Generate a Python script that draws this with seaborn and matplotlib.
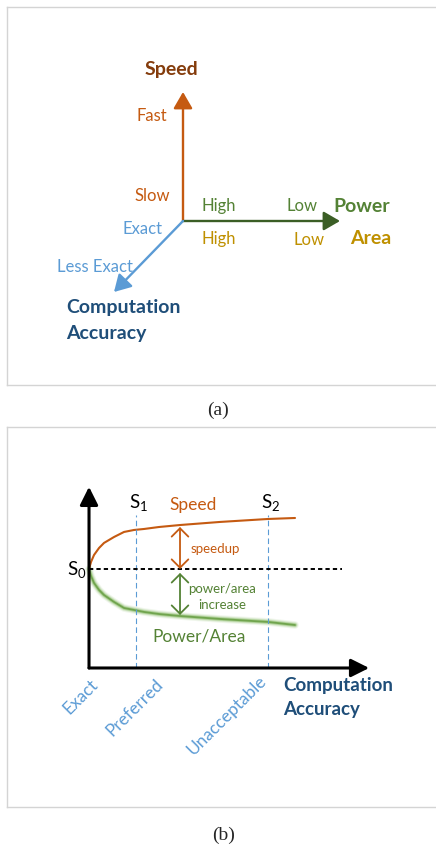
import numpy as np
import pandas as pd
import matplotlib
matplotlib.use("Agg")
import matplotlib.pyplot as plt
import seaborn as sns

sns.set_theme(style="white")
plt.rcParams["font.family"] = ["Lato", "DejaVu Sans"]
plt.rcParams["mathtext.fontset"] = "custom"
plt.rcParams["mathtext.rm"] = "Lato"

# ---------------- data ----------------
# panel (a): axis labels
speed_ticks = ["Fast", "Slow"]
power_ticks = ["High", "Low"]
area_ticks = ["High", "Low"]
accuracy_ticks = ["Exact", "Less Exact"]

# panel (b): accuracy loss (in units of S1) and relative speed / power-area
accuracy_loss = [0, 0.043, 0.106, 0.213, 0.319, 0.532, 0.745, 0.957, 1.170, 1.489,
                 1.936, 2.787, 3.809, 4.383]
speed_rel = [1.00, 1.071, 1.141, 1.212, 1.263, 1.323, 1.374, 1.394, 1.404, 1.424,
             1.444, 1.475, 1.505, 1.515]
power_rel = [1.00, 0.929, 0.859, 0.788, 0.737, 0.667, 0.606, 0.586, 0.566, 0.545,
             0.525, 0.495, 0.465, 0.434]
thresholds = {"S$_\\mathregular{1}$": 1.0, "S$_\\mathregular{2}$": 3.81}
accuracy_levels = ["Exact", "Preferred", "Unacceptable"]
accuracy_level_x = [-0.17, 0.98, 2.94]

# colors
C_SPEED_DARK = "#843C0C"
C_SPEED = "#C55A11"
C_GREEN = "#548235"
C_GREEN_DARK = "#3B5E25"
C_GOLD = "#BF9000"
C_BLUE = "#5B9BD5"
C_NAVY = "#1F4E79"
C_BORDER = "#D4D4D4"

W, H = 436, 851
fig = plt.figure(figsize=(W / 100, H / 100), dpi=100)


def px_axes(x0, y0, x1, y1):
    return fig.add_axes([x0 / W, 1 - y1 / H, (x1 - x0) / W, (y1 - y0) / H])


def boxed(ax):
    ax.set_xticks([])
    ax.set_yticks([])
    for name, s in ax.spines.items():
        s.set_visible(name != "right")
        s.set_color(C_BORDER)
        s.set_linewidth(1.0)
    ax.set_facecolor("white")


# ---------------- panel (a) ----------------
axa = px_axes(7, 7, 445, 385)
boxed(axa)
axa.set_xlim(-176, 262)
axa.set_ylim(-164, 214)


def arrow(ax, xy0, xy1, color, lw, hl=1.0, hw=0.58, ms=10):
    ax.annotate("", xy=xy1, xytext=xy0,
                arrowprops=dict(arrowstyle=f"-|>,head_length={hl},head_width={hw}",
                                color=color, lw=lw, shrinkA=0, shrinkB=0,
                                mutation_scale=ms))


arrow(axa, (0, 0), (0, 129), C_SPEED, 1.7)
arrow(axa, (0, 0), (157, 0), C_GREEN_DARK, 1.7)
arrow(axa, (0, 0), (-69, -71), C_BLUE, 1.7)

axa.text(-12, 151, "Speed", color=C_SPEED_DARK, fontsize=14, fontweight="bold",
         ha="center", va="center")
axa.text(-31, 105, speed_ticks[0], color=C_SPEED, fontsize=12, ha="center", va="center")
axa.text(-31, 25, speed_ticks[1], color=C_SPEED, fontsize=12, ha="center", va="center")
axa.text(36, 15, power_ticks[0], color=C_GREEN, fontsize=12, ha="center", va="center")
axa.text(119, 15, power_ticks[1], color=C_GREEN, fontsize=12, ha="center", va="center")
axa.text(179, 14, "Power", color=C_GREEN, fontsize=14, fontweight="bold",
         ha="center", va="center")
axa.text(36, -18, area_ticks[0], color=C_GOLD, fontsize=12, ha="center", va="center")
axa.text(126, -19, area_ticks[1], color=C_GOLD, fontsize=12, ha="center", va="center")
axa.text(188, -18, "Area", color=C_GOLD, fontsize=14, fontweight="bold",
         ha="center", va="center")
axa.text(-41, -8, accuracy_ticks[0], color=C_BLUE, fontsize=12, ha="center", va="center")
axa.text(-88, -46, accuracy_ticks[1], color=C_BLUE, fontsize=12, ha="center", va="center")
axa.text(-117, -87, "Computation", color=C_NAVY, fontsize=14, fontweight="bold",
         ha="left", va="center")
axa.text(-117, -112, "Accuracy", color=C_NAVY, fontsize=14, fontweight="bold",
         ha="left", va="center")

fig.text(218 / W, 1 - 410 / H, "(a)", family="Liberation Serif", fontsize=14,
         ha="center", va="center")

# ---------------- panel (b) ----------------
axb = px_axes(7, 427, 445, 807)
boxed(axb)
axb.set_xlim(-1.745, 7.574)
axb.set_ylim(-1.404, 2.434)

df = pd.DataFrame({"accuracy": accuracy_loss, "speed": speed_rel, "power": power_rel})

# green curve with soft glow
for lw, a in [(5.5, 0.10), (4.0, 0.20), (2.6, 0.40)]:
    sns.lineplot(data=df, x="accuracy", y="power", ax=axb, color="#70AD47", lw=lw,
                 alpha=a, sort=False, estimator=None, solid_capstyle="round",
                 solid_joinstyle="round")
sns.lineplot(data=df, x="accuracy", y="power", ax=axb, color="#6AA046", lw=1.3,
             alpha=0.9, sort=False, estimator=None, solid_joinstyle="round")
sns.lineplot(data=df, x="accuracy", y="speed", ax=axb, color=C_SPEED, lw=1.5,
             sort=False, estimator=None, solid_joinstyle="round")

# threshold lines
for lab, xv in thresholds.items():
    axb.plot([xv, xv], [0, 1.545], color=C_BLUE, lw=0.8, ls=(0, (5, 3)))
    axb.text(xv + 0.05, 1.667, lab, fontsize=13.5, ha="center", va="center", color="black")

# baseline S0
axb.plot([0, 5.38], [1, 1], color="black", lw=1.4, ls=(0, (2.2, 1.6)))
axb.text(-0.06, 0.99, "S$_\\mathregular{0}$", fontsize=13.5, ha="right", va="center",
         color="black")

# axes arrows
arrow(axb, (0, 0), (0, 1.83), "black", 2.2, hl=1.1, hw=0.55)
arrow(axb, (0, 0), (5.96, 0), "black", 2.2, hl=1.1, hw=0.55)

# double arrows
xa = 1.936
sp_at = float(np.interp(xa, accuracy_loss, speed_rel))
pw_at = float(np.interp(xa, accuracy_loss, power_rel))
axb.annotate("", xy=(xa, sp_at - 0.02), xytext=(xa, 1.0),
             arrowprops=dict(arrowstyle="<->,head_length=0.6,head_width=0.6",
                             color=C_SPEED, lw=1.3, shrinkA=0, shrinkB=0,
                             mutation_scale=10))
axb.annotate("", xy=(xa, pw_at + 0.01), xytext=(xa, 0.96),
             arrowprops=dict(arrowstyle="<->,head_length=0.6,head_width=0.6",
                             color=C_GREEN, lw=1.3, shrinkA=0, shrinkB=0,
                             mutation_scale=10))

axb.text(2.21, 1.646, "Speed", color=C_SPEED, fontsize=12.5, ha="center", va="center")
axb.text(2.68, 1.20, "speedup", color=C_SPEED, fontsize=9.5, ha="center", va="center")
axb.text(2.83, 0.80, "power/area", color=C_GREEN, fontsize=9.5, ha="center", va="center")
axb.text(2.83, 0.636, "increase", color=C_GREEN, fontsize=9.5, ha="center", va="center")
axb.text(2.34, 0.313, "Power/Area", color=C_GREEN, fontsize=12.5, ha="center", va="center")

for lab, xv, yv in zip(accuracy_levels, accuracy_level_x, [-0.293, -0.404, -0.475]):
    axb.text(xv, yv, lab, color=C_BLUE, fontsize=12.5, rotation=45, ha="center",
             va="center", rotation_mode="anchor")

axb.text(4.13, -0.18, "Computation", color=C_NAVY, fontsize=13.5, fontweight="bold",
         ha="left", va="center")
axb.text(4.13, -0.424, "Accuracy", color=C_NAVY, fontsize=13.5, fontweight="bold",
         ha="left", va="center")
axb.set_xlabel("")
axb.set_ylabel("")

fig.text(224 / W, 1 - 835 / H, "(b)", family="Liberation Serif", fontsize=14,
         ha="center", va="center")

fig.savefig("out.png", dpi=100)
